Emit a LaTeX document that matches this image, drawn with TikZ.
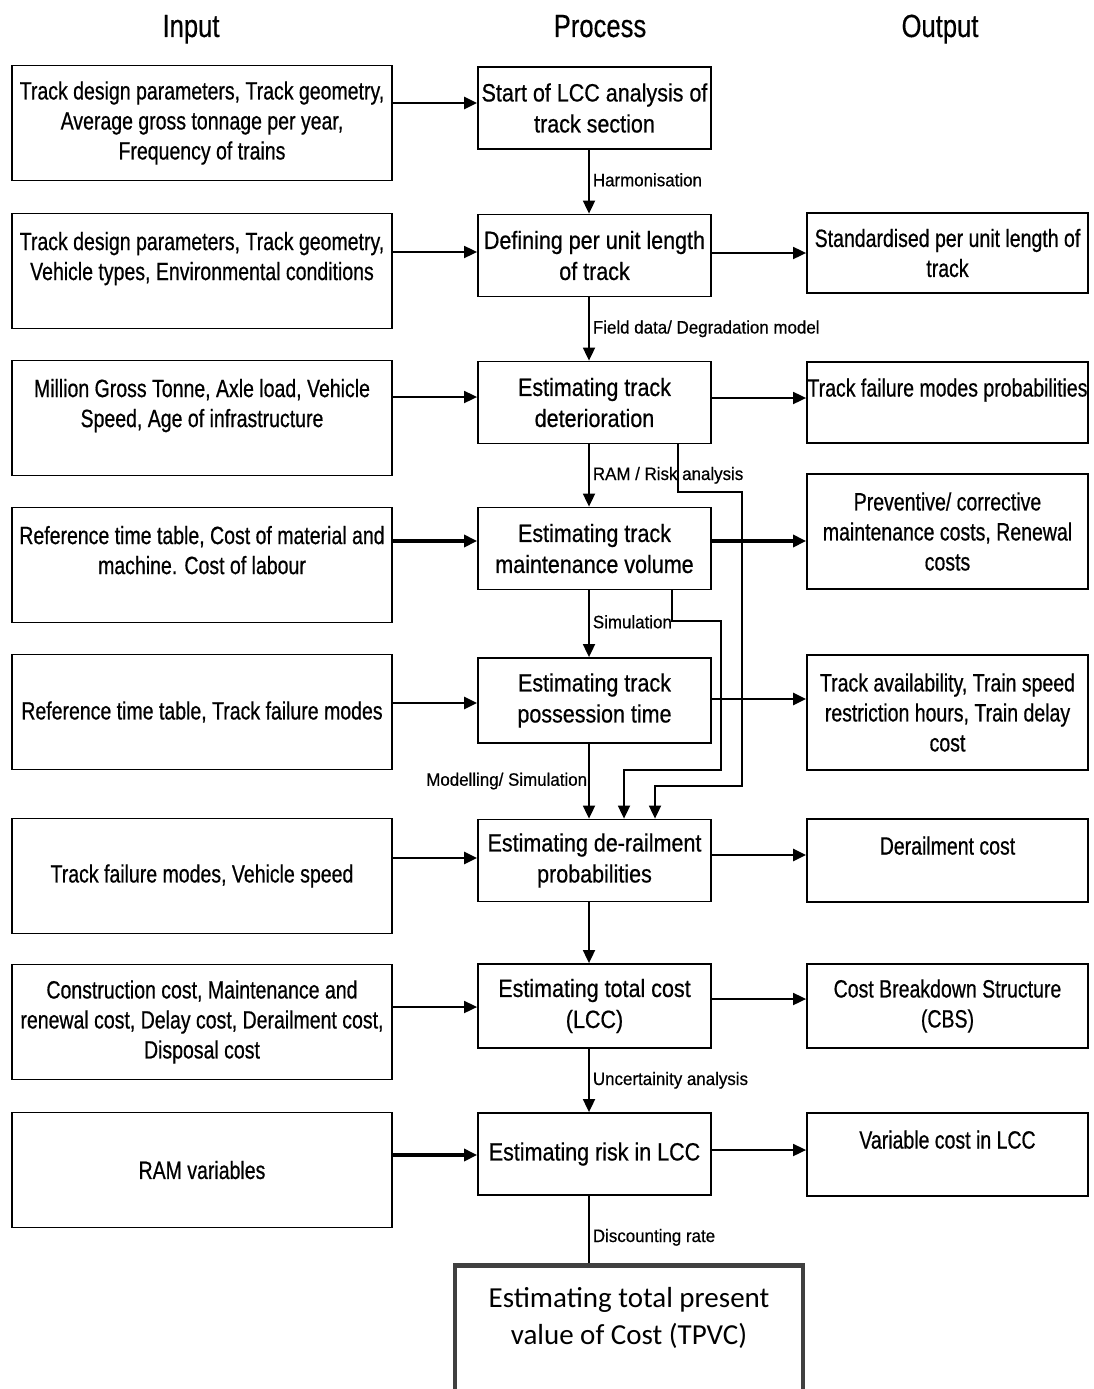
\documentclass[tikz,border=0pt]{standalone}
\usepackage{fontspec}
\usetikzlibrary{arrows.meta}
\setmainfont{Carlito}
\newfontfamily\boxfont[FakeStretch=0.78,FakeBold=0.6]{Liberation Sans}
\newfontfamily\procfont[FakeStretch=0.86,FakeBold=0.6]{Liberation Sans}
\newfontfamily\lblfont[FakeStretch=0.94,FakeBold=0.5]{Liberation Sans}
\newfontfamily\headfont[FakeStretch=0.80,FakeBold=0.4]{Liberation Sans}
\definecolor{frameGray}{HTML}{404040}

\begin{document}
\begin{tikzpicture}[x=1pt,y=-1pt,
  inbox/.style={draw, line width=1.8pt, minimum width=380pt, minimum height=115pt,
    inner sep=0pt, align=center, font=\boxfont\fontsize{25}{30}\selectfont},
  procbox/.style={draw, line width=1.8pt, minimum width=233pt, minimum height=82pt,
    inner sep=0pt, align=center, font=\procfont\fontsize{25}{31}\selectfont},
  outbox/.style={draw, line width=1.8pt, minimum width=281pt, minimum height=83pt,
    inner sep=0pt, align=center, font=\boxfont\fontsize{25}{30}\selectfont},
  finalbox/.style={draw=frameGray, line width=4.5pt, minimum width=348pt, minimum height=170pt,
    inner sep=0pt},
  finaltext/.style={align=center, inner sep=0pt, font=\fontsize{29}{37}\selectfont},
  head/.style={font=\headfont\fontsize{32}{36}\selectfont, inner sep=0pt,
    text height=26pt, text depth=7pt},
  flow/.style={line width=1.8pt, -{Triangle[length=13pt,width=12pt]}},
  midflow/.style={flow, line width=2.6pt},
  heavy/.style={flow, line width=3.6pt},
  link/.style={line width=1.8pt},
  lbl/.style={font=\lblfont\fontsize{18}{20}\selectfont, inner sep=0pt,
    text height=13pt, text depth=4pt},
]
\useasboundingbox (0,0) rectangle (1094,1389);
\clip (0,0) rectangle (1094,1389);

% column headings
\node[head] (hIn)  at (191,27.5) {Input};
\node[head] (hPr)  at (600,27.5) {Process};
\node[head] (hOut) at (940,27.5) {Output};

% input column
\node[inbox] (I1) at (202,123) {Track design parameters, Track geometry,\\Average gross tonnage per year,\\Frequency of trains};
\node[inbox] (I2) at (202,271) {Track design parameters, Track geometry,\\Vehicle types, Environmental conditions\\\mbox{}};
\node[inbox] (I3) at (202,418) {Million Gross Tonne, Axle load, Vehicle\\Speed, Age of infrastructure\\\mbox{}};
\node[inbox] (I4) at (202,565) {Reference time table, Cost of material and\\machine. Cost of labour\\\mbox{}};
\node[inbox] (I5) at (202,712) {Reference time table, Track failure modes};
\node[inbox] (I6) at (202,876) {Track failure modes, Vehicle speed};
\node[inbox] (I7) at (202,1022) {Construction cost, Maintenance and\\renewal cost, Delay cost, Derailment cost,\\Disposal cost};
\node[inbox] (I8) at (202,1170) {RAM variables};

% process column
\node[procbox] (P1) at (594.5,108) {Start of LCC analysis of\\track section};
\node[procbox] (P2) at (594.5,255.5) {Defining per unit length\\of track};
\node[procbox] (P3) at (594.5,402.5) {Estimating track\\deterioration};
\node[procbox] (P4) at (594.5,548.5) {Estimating track\\maintenance volume};
\node[procbox, minimum height=85pt] (P5) at (594.5,700.5) {Estimating track\\possession time};
\node[procbox] (P6) at (594.5,860.5) {Estimating de-railment\\probabilities};
\node[procbox, minimum height=84pt] (P7) at (594.5,1006) {Estimating total cost\\(LCC)};
\node[procbox] (P8) at (594.5,1154) {Estimating risk in LCC};

% output column
\node[outbox, minimum height=80pt] (O1) at (947.5,253) {Standardised per unit length of\\track};
\node[outbox, minimum height=81pt] (O2) at (947.5,402.5) {Track failure modes probabilities\\\mbox{}};
\node[outbox, minimum height=115pt] (O3) at (947.5,531.5) {Preventive/ corrective\\maintenance costs, Renewal\\costs};
\node[outbox, minimum height=115pt] (O4) at (947.5,712.5) {Track availability, Train speed\\restriction hours, Train delay\\cost};
\node[outbox] (O5) at (947.5,860.5) {Derailment cost\\\mbox{}};
\node[outbox, minimum height=84pt] (O6) at (947.5,1006) {Cost Breakdown Structure\\(CBS)};
\node[outbox] (O7) at (947.5,1154.5) {Variable cost in LCC\\\mbox{}};

% final result
\node[finalbox, anchor=north] (F) at (629,1263) {};
\node[finaltext] (Ft) at (629,1318) {Estimating total present\\value of Cost (TPVC)};

% heights of the horizontal connectors
\coordinate (y1) at (0,103);
\coordinate (y2) at (0,252);
\coordinate (y3) at (0,397);
\coordinate (y4) at (0,541);
\coordinate (y5) at (0,703);
\coordinate (y6) at (0,858);
\coordinate (y7) at (0,1007);
\coordinate (y8) at (0,1155);
\coordinate (z2) at (0,253);
\coordinate (z3) at (0,398);
\coordinate (z4) at (0,541);
\coordinate (z5) at (0,699);
\coordinate (z6) at (0,855);
\coordinate (z7) at (0,999);
\coordinate (z8) at (0,1150);

% inputs into the process steps
\draw[midflow] (I1.east |- y1) -- (P1.west |- y1);
\draw[flow]    (I2.east |- y2) -- (P2.west |- y2);
\draw[flow]    (I3.east |- y3) -- (P3.west |- y3);
\draw[heavy]   (I4.east |- y4) -- (P4.west |- y4);
\draw[midflow] (I5.east |- y5) -- (P5.west |- y5);
\draw[midflow] (I6.east |- y6) -- (P6.west |- y6);
\draw[flow]    (I7.east |- y7) -- (P7.west |- y7);
\draw[heavy]   (I8.east |- y8) -- (P8.west |- y8);

% process steps into the outputs
\draw[flow]    (P2.east |- z2) -- (O1.west |- z2);
\draw[flow]    (P3.east |- z3) -- (O2.west |- z3);
\draw[heavy]   (P4.east |- z4) -- (O3.west |- z4);
\draw[midflow] (P5.east |- z5) -- (O4.west |- z5);
\draw[midflow] (P6.east |- z6) -- (O5.west |- z6);
\draw[flow]    (P7.east |- z7) -- (O6.west |- z7);
\draw[flow]    (P8.east |- z8) -- (O7.west |- z8);

% main process chain
\coordinate (cx) at (589,0);
\draw[flow] (P1.south -| cx) -- node[lbl, anchor=west, xshift=3pt] (lH) {Harmonisation} (P2.north -| cx);
\draw[flow] (P2.south -| cx) -- node[lbl, anchor=west, xshift=3pt] (lF) {Field data/ Degradation model} (P3.north -| cx);
\draw[flow] (P3.south -| cx) -- node[lbl, anchor=west, xshift=3pt] (lR) {RAM / Risk analysis} (P4.north -| cx);
\draw[flow] (P4.south -| cx) -- node[lbl, anchor=west, xshift=3pt] (lS) {Simulation} (P5.north -| cx);
\draw[flow] (P5.south -| cx) -- node[lbl, anchor=east, xshift=-1pt] (lM) {Modelling/ Simulation} (P6.north -| cx);
\draw[flow] (P6.south -| cx) -- (P7.north -| cx);
\draw[flow] (P7.south -| cx) -- node[lbl, anchor=west, xshift=3pt] (lU) {Uncertainity analysis} (P8.north -| cx);
\draw[link] (P8.south -| cx) -- node[lbl, anchor=west, xshift=3pt, pos=0.62] (lD) {Discounting rate} (F.north -| cx);

% bypass links into the derailment step
\coordinate (s1) at (678,492);
\coordinate (s1b) at (742,786);
\coordinate (s1c) at (655,0);
\draw[flow] (P3.south -| s1) -- (s1) -| (s1b) -| (P6.north -| s1c);
\coordinate (s2) at (672,621);
\coordinate (s2b) at (721,770);
\coordinate (s2c) at (624,0);
\draw[flow] (P4.south -| s2) -- (s2) -| (s2b) -| (P6.north -| s2c);
\end{tikzpicture}
\end{document}
